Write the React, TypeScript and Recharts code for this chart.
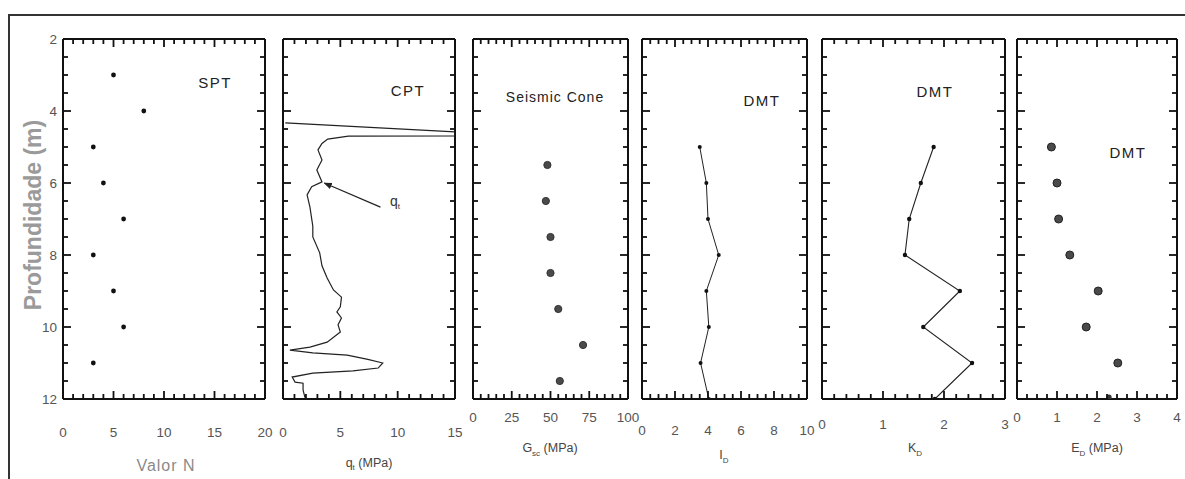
import React from "react";
import { ScatterChart, Scatter, XAxis, YAxis, ReferenceLine } from "recharts";

// ─── Data ────────────────────────────────────────────────────────────────

const depthLabels = [2, 4, 6, 8, 10, 12];

const sptDepth = [3, 4, 5, 6, 7, 8, 9, 10, 11];
const sptN = [5, 8, 3, 4, 6, 3, 5, 6, 3];

const cptDepth = [
  4.33, 4.58, 4.69, 4.7, 4.78, 4.9, 5.08, 5.36, 5.64, 5.97, 6.1, 6.33, 6.67, 7.2, 7.5, 7.94, 8.3,
  8.64, 8.97, 9.17, 9.44, 9.58, 9.75, 9.94, 10.14, 10.42, 10.56, 10.64, 10.72, 10.78, 10.9, 11.0,
  11.14, 11.22, 11.28, 11.39, 11.53, 11.56, 11.75, 11.94, 12.0,
];
const cptQt = [
  0.2, 15, 15, 5.7, 3.9, 3.4, 3.05, 3.4, 2.95, 3.4, 2.5, 2.1, 2.35, 2.6, 2.6, 3.2, 3.4,
  3.85, 4.4, 5.1, 5.0, 4.7, 5.1, 4.8, 5.0, 3.85, 2.35, 0.6, 2.6, 5.6, 7.4, 8.7,
  8.3, 6.1, 2.6, 0.8, 1.05, 1.75, 1.75, 1.9, 2.0,
];

const scDepth = [5.5, 6.5, 7.5, 8.5, 9.5, 10.5, 11.5];
const scGsc = [48, 47, 50, 50, 55, 71, 56];

const dmtDepth = [5, 6, 7, 8, 9, 10, 11, 12];
const dmtId = [3.5, 3.9, 4.0, 4.65, 3.9, 4.05, 3.55, 4.05];
const dmtKd = [1.83, 1.62, 1.43, 1.36, 2.26, 1.66, 2.46, 1.85];

const edDepth = [5, 6, 7, 8, 9, 10, 11];
const edValues = [0.86, 1.0, 1.04, 1.32, 2.03, 1.73, 2.52];
const edEdgeDepth = [11.95];
const edEdgeValues = [2.3];

// q_t arrow (from label to curve)
const qtArrow = [
  { x: 8.5, y: 6.67 },
  { x: 3.6, y: 6.0 },
];

const toPoints = (xs: number[], ys: number[]) => xs.map((x, i) => ({ x, y: ys[i] }));

// ─── Layout ──────────────────────────────────────────────────────────────

const W = 1185;
const H = 479;
const TOP = 39;
const BOTTOM = 399;
const FONT = "'Liberation Sans', Arial, sans-serif";
const INK = "#111";

type PanelDef = {
  x0: number;
  x1: number;
  domain: [number, number];
  labels: number[];
  step: number;
  labelY: number;
  showDepth?: boolean;
};

const panels: Record<string, PanelDef> = {
  spt: { x0: 63, x1: 265, domain: [0, 20], labels: [0, 5, 10, 15, 20], step: 1, labelY: 432, showDepth: true },
  cpt: { x0: 283, x1: 455, domain: [0, 15], labels: [0, 5, 10, 15], step: 1, labelY: 432 },
  sc: { x0: 473, x1: 628, domain: [0, 100], labels: [0, 25, 50, 75, 100], step: 5, labelY: 417 },
  id: { x0: 642, x1: 807, domain: [0, 10], labels: [0, 2, 4, 6, 8, 10], step: 0.5, labelY: 430 },
  kd: { x0: 822, x1: 1005, domain: [0, 3], labels: [0, 1, 2, 3], step: 0.2, labelY: 424 },
  ed: { x0: 1017, x1: 1177, domain: [0, 4], labels: [0, 1, 2, 3, 4], step: 0.25, labelY: 417 },
};

function stepTicks(lo: number, hi: number, step: number) {
  const out: number[] = [];
  const n = Math.round((hi - lo) / step);
  for (let i = 0; i <= n; i++) out.push(Math.round((lo + i * step) * 1000) / 1000);
  return out;
}

const has = (arr: number[], v: number) => arr.some((a) => Math.abs(a - v) < 1e-6);

// ─── Ticks (drawn inward, long at labelled values) ────────────────────────

function makeTick(side: "bottom" | "top" | "left" | "right", labels: number[], labelY = 0, showText = false) {
  return (props: any) => {
    const { x, y, payload } = props;
    const v = Number(payload.value);
    const len = has(labels, v) ? 8 : 5;
    let d = "";
    if (side === "bottom") d = `M${x},${y}V${y - len}`;
    else if (side === "top") d = `M${x},${y}V${y + len}`;
    else if (side === "left") d = `M${x},${y}H${x + len}`;
    else d = `M${x},${y}H${x - len}`;
    return (
      <g>
        <path d={d} stroke={INK} strokeWidth={1.8} fill="none" />
        {showText && has(labels, v) && side === "bottom" && (
          <text x={x} y={labelY} textAnchor="middle" dominantBaseline="central" fill="#555" stroke="none" fontSize={13.5} fontFamily={FONT}>
            {v}
          </text>
        )}
        {showText && has(labels, v) && side === "left" && (
          <text x={x - 6} y={y} textAnchor="end" dominantBaseline="central" fill="#555" stroke="none" fontSize={13.5} fontFamily={FONT}>
            {v}
          </text>
        )}
      </g>
    );
  };
}

function Panel({ p, children }: { p: PanelDef; children: React.ReactNode }) {
  const padL = 40;
  const padR = 30;
  const width = p.x1 - p.x0 + padL + padR;
  const xTicks = stepTicks(p.domain[0], p.domain[1], p.step);
  const yTicks = stepTicks(2, 12, 0.5);
  const axisLine = { stroke: INK, strokeWidth: 2 };
  // every axis takes 1px (recharts skips 0-sized axes), so margins are 1px smaller
  return (
    <div style={{ position: "absolute", left: p.x0 - padL, top: 0 }}>
      <ScatterChart width={width} height={H} margin={{ top: TOP - 1, bottom: H - BOTTOM - 1, left: padL - 1, right: padR - 1 }}>
        <XAxis xAxisId="b" type="number" dataKey="x" domain={p.domain} allowDataOverflow ticks={xTicks} interval={0}
          height={1} tickSize={0} tickMargin={0} tickLine={false} axisLine={axisLine}
          tick={makeTick("bottom", p.labels, p.labelY, true)} />
        <XAxis xAxisId="t" orientation="top" type="number" dataKey="x" domain={p.domain} allowDataOverflow ticks={xTicks} interval={0}
          height={1} tickSize={0} tickMargin={0} tickLine={false} axisLine={axisLine}
          tick={makeTick("top", p.labels)} />
        <YAxis yAxisId="l" type="number" dataKey="y" domain={[2, 12]} reversed allowDataOverflow ticks={yTicks} interval={0}
          width={1} tickSize={0} tickMargin={0} tickLine={false} axisLine={axisLine}
          tick={makeTick("left", depthLabels, 0, !!p.showDepth)} />
        <YAxis yAxisId="r" orientation="right" type="number" dataKey="y" domain={[2, 12]} reversed allowDataOverflow ticks={yTicks} interval={0}
          width={1} tickSize={0} tickMargin={0} tickLine={false} axisLine={axisLine}
          tick={makeTick("right", depthLabels)} />
        {children}
      </ScatterChart>
    </div>
  );
}

const dot = (r: number, fill: string, stroke?: string) => (props: any) =>
  <circle cx={props.cx} cy={props.cy} r={r} fill={fill} stroke={stroke ?? "none"} strokeWidth={1} />;

const noDot = () => <g />;

// ─── Text overlay ────────────────────────────────────────────────────────

const titleStyle = { fontFamily: FONT, fontSize: 15, fill: "#222", letterSpacing: 1.5 } as const;
const axisStyle = { fontFamily: FONT, fontSize: 12.5, fill: "#444" } as const;

function Overlay() {
  return (
    <svg width={W} height={H} style={{ position: "absolute", left: 0, top: 0, pointerEvents: "none" }}>
      <defs>
        <marker id="arrowHead" viewBox="0 0 10 10" refX="9" refY="5" markerWidth="7" markerHeight="7" orient="auto-start-reverse">
          <path d="M0,1 L10,5 L0,9 z" fill="#222" />
        </marker>
      </defs>
      <text x={33} y={215} transform="rotate(-90 33 215)" textAnchor="middle" dominantBaseline="central"
        fontFamily={FONT} fontSize={23} fontWeight="bold" fill="#9a9a9a">Profundidade (m)</text>

      <text x={215} y={82} textAnchor="middle" dominantBaseline="central" {...titleStyle}>SPT</text>
      <text x={408} y={90} textAnchor="middle" dominantBaseline="central" {...titleStyle}>CPT</text>
      <text x={555} y={97} textAnchor="middle" dominantBaseline="central" {...titleStyle} fontSize={14} letterSpacing={1}>Seismic Cone</text>
      <text x={762} y={100} textAnchor="middle" dominantBaseline="central" {...titleStyle}>DMT</text>
      <text x={935} y={91} textAnchor="middle" dominantBaseline="central" {...titleStyle}>DMT</text>
      <text x={1128} y={152} textAnchor="middle" dominantBaseline="central" {...titleStyle}>DMT</text>

      <text x={390} y={201} textAnchor="start" dominantBaseline="central" fontFamily={FONT} fontSize={14} fill="#333">
        q<tspan fontSize={8} dy={5} fill="#333">t</tspan>
      </text>

      <text x={166} y={465} textAnchor="middle" dominantBaseline="central" fontFamily={FONT} fontSize={16} fill="#8a8a8a" letterSpacing={1}>Valor N</text>
      <text x={369} y={463} textAnchor="middle" dominantBaseline="central" {...axisStyle}>
        q<tspan fontSize={8} dy={4} fill="#444">t</tspan><tspan dy={-4} fill="#444"> (MPa)</tspan>
      </text>
      <text x={550} y={448} textAnchor="middle" dominantBaseline="central" {...axisStyle}>
        G<tspan fontSize={8} dy={5} fill="#444">sc</tspan><tspan dy={-5} fill="#444"> (MPa)</tspan>
      </text>
      <text x={724} y={455} textAnchor="middle" dominantBaseline="central" {...axisStyle}>
        I<tspan fontSize={8} dy={5} fill="#444">D</tspan>
      </text>
      <text x={915} y={448} textAnchor="middle" dominantBaseline="central" {...axisStyle}>
        K<tspan fontSize={8} dy={5} fill="#444">D</tspan>
      </text>
      <text x={1097} y={448} textAnchor="middle" dominantBaseline="central" {...axisStyle}>
        E<tspan fontSize={8} dy={5} fill="#444">D</tspan><tspan dy={-5} fill="#444">  (MPa)</tspan>
      </text>
    </svg>
  );
}

// ─── App ─────────────────────────────────────────────────────────────────

export default function App() {
  const ax = { xAxisId: "b", yAxisId: "l" };
  return (
    <div style={{ position: "absolute", left: 0, top: 0, width: W, height: H, background: "#fff", overflow: "hidden" }}>
      <div style={{ position: "absolute", left: 8, top: 14, width: W, height: H, border: "2px solid #333", boxSizing: "border-box" }} />

      <Panel p={panels.spt}>
        <Scatter {...ax} data={toPoints(sptN, sptDepth)} shape={dot(2.4, INK)} isAnimationActive={false} />
      </Panel>

      <Panel p={panels.cpt}>
        <Scatter {...ax} data={toPoints(cptQt, cptDepth)} line={{ stroke: "#222", strokeWidth: 1.2 }} lineType="joint"
          shape={noDot} isAnimationActive={false} />
        <ReferenceLine {...ax} segment={qtArrow} stroke="#222" strokeWidth={1.2} markerEnd="url(#arrowHead)" ifOverflow="visible" />
      </Panel>

      <Panel p={panels.sc}>
        <Scatter {...ax} data={toPoints(scGsc, scDepth)} shape={dot(3.6, "#4a4a4a", "#333")} isAnimationActive={false} />
      </Panel>

      <Panel p={panels.id}>
        <Scatter {...ax} data={toPoints(dmtId, dmtDepth)} line={{ stroke: "#222", strokeWidth: 1 }} lineType="joint"
          shape={dot(2, INK)} isAnimationActive={false} />
      </Panel>

      <Panel p={panels.kd}>
        <Scatter {...ax} data={toPoints(dmtKd, dmtDepth)} line={{ stroke: "#222", strokeWidth: 1.1 }} lineType="joint"
          shape={dot(2.2, INK)} isAnimationActive={false} />
      </Panel>

      <Panel p={panels.ed}>
        <Scatter {...ax} data={toPoints(edValues, edDepth)} shape={dot(4, "#4a4a4a", "#222")} isAnimationActive={false} />
        <Scatter {...ax} data={toPoints(edEdgeValues, edEdgeDepth)} shape={dot(2.6, "#333")} isAnimationActive={false} />
      </Panel>

      <Overlay />
    </div>
  );
}
